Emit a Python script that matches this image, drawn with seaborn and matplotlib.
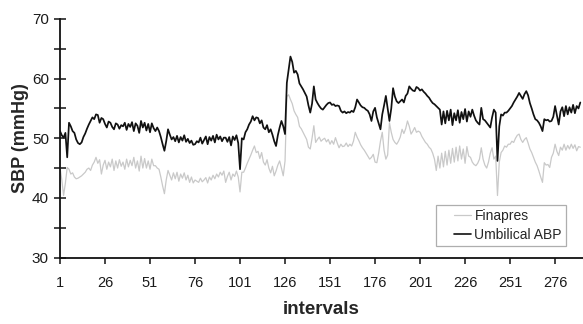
import numpy as np
import pandas as pd
import matplotlib
matplotlib.use("Agg")
import matplotlib.pyplot as plt
import seaborn as sns
from matplotlib.legend_handler import HandlerLine2D

# ---------------- data ----------------
umbilical_abp = [
    51.2, 50.5, 50.1, 50.9, 46.8, 52.6, 52.0, 51.2, 50.9, 49.8,
    49.2, 49.0, 49.3, 50.2, 50.8, 51.6, 52.3, 52.9, 53.5, 53.2,
    54.0, 53.9, 52.6, 53.4, 53.2, 52.4, 51.8, 52.8, 52.6, 51.9,
    51.5, 52.5, 52.3, 51.6, 52.2, 52.0, 52.6, 51.4, 52.4, 51.9,
    52.7, 51.2, 52.5, 52.1, 50.9, 52.9, 51.8, 52.6, 51.3, 52.4,
    51.0, 52.5, 51.7, 51.2, 51.8, 51.2, 50.2, 49.0, 47.9, 49.5,
    51.5, 50.6, 49.8, 50.2, 49.5, 50.4, 49.3, 50.2, 49.6, 50.5,
    49.4, 49.9, 49.2, 49.6, 48.9, 49.0, 49.5, 49.3, 50.1, 49.1,
    49.7, 50.3, 49.0, 50.2, 49.6, 50.4, 49.3, 50.6, 49.8, 50.3,
    49.5, 50.1, 50.1, 49.4, 50.2, 48.8, 50.3, 49.7, 50.5, 49.2,
    44.8, 50.0, 49.8, 51.0, 51.5, 52.3, 52.8, 53.7, 53.0, 53.5,
    53.4, 52.5, 53.0, 51.8, 51.5, 52.2, 51.0, 51.5, 50.6, 49.5,
    48.7, 50.5, 51.8, 52.9, 52.0, 50.7, 59.3, 61.5, 63.7, 62.8,
    61.0, 61.3, 60.7, 59.2, 58.7, 58.2, 57.6, 57.0, 55.5, 54.3,
    55.8, 58.7, 56.5, 55.9, 55.4, 55.0, 54.8, 55.2, 55.6, 55.9,
    56.0, 55.6, 55.7, 55.4, 55.5, 55.4, 54.6, 54.3, 54.5, 54.2,
    54.4, 54.3, 54.6, 54.4, 55.2, 56.5, 56.0, 55.5, 55.2, 55.1,
    54.8, 54.6, 54.0, 52.9, 54.5, 55.1, 53.5, 52.5, 51.5, 54.0,
    55.5, 57.1, 55.0, 52.9, 55.0, 58.4, 57.0, 56.2, 55.9, 56.2,
    56.5, 56.0, 57.1, 57.5, 58.7, 58.3, 58.0, 57.9, 58.6, 58.4,
    58.0, 58.2, 57.8, 57.5, 57.1, 56.8, 56.3, 55.9, 55.7, 55.4,
    55.1, 54.8, 52.3, 54.5, 52.5, 54.6, 53.0, 54.8, 52.2, 54.2,
    53.0, 54.7, 52.6, 54.4, 53.2, 54.9, 52.8, 54.5, 53.6, 54.8,
    53.8, 53.0, 52.6, 52.3, 55.1, 53.2, 53.0, 52.6, 52.2, 51.8,
    53.5, 54.8, 54.3, 46.2, 52.0, 54.0, 53.8, 54.3, 54.3, 54.6,
    55.0, 55.4, 56.0, 56.5, 57.0, 57.6, 57.1, 56.6, 57.4, 57.9,
    57.2, 55.9, 55.0, 54.0, 53.2, 53.0, 52.6, 52.0, 51.2, 53.2,
    53.0, 53.1, 52.8, 52.9, 53.6, 55.4, 53.8, 52.3, 54.5, 55.2,
    53.7, 55.4, 54.0, 55.2, 54.3, 55.6, 54.2, 55.4, 55.0, 56.0,
]

finapres = [
    45.1, 43.0, 40.4, 42.5, 45.1, 44.8, 44.0, 44.2, 43.5, 43.2,
    43.3, 43.5, 43.7, 44.0, 44.3, 44.8, 45.0, 44.6, 45.5, 46.0,
    46.8, 45.8, 46.4, 44.0, 45.5, 46.3, 44.8, 46.0, 45.2, 46.5,
    44.6, 46.2, 45.0, 46.4, 45.3, 46.0, 44.8, 46.5, 45.2, 46.3,
    45.4, 46.8, 45.0, 46.2, 44.5, 47.0, 45.0, 46.6, 45.0, 46.2,
    44.8, 46.5, 45.4, 45.4, 45.0, 44.8, 43.5, 42.0, 40.7, 43.0,
    44.6, 43.8, 43.0, 44.2, 43.2, 44.3, 42.8, 44.0, 43.3, 44.2,
    43.0, 43.8, 42.6, 43.5, 42.5, 43.0, 42.8, 42.6, 43.3, 42.7,
    43.0, 43.4, 42.5, 43.5, 43.0, 43.8, 43.2, 44.0, 43.5, 44.3,
    43.8, 44.5, 42.6, 43.6, 44.3, 43.0, 44.0, 43.6, 44.5, 43.5,
    41.0, 44.3, 44.3, 45.0, 45.8, 46.5, 47.2, 48.0, 48.7, 47.6,
    47.8, 46.6, 47.6, 46.0, 45.5, 46.4, 45.0, 44.2, 45.3, 43.7,
    44.5, 45.5, 46.2, 45.0, 43.7, 46.2, 57.0, 57.3, 56.5, 55.8,
    54.6, 54.0, 53.5, 52.0, 51.6, 51.0, 50.4, 49.8, 48.5, 48.2,
    50.0, 52.1, 49.3, 49.8, 50.2, 49.5, 49.8, 50.0, 49.4, 49.8,
    49.0, 49.6, 49.0, 50.1, 49.2, 48.4, 49.0, 48.6, 48.7, 49.2,
    48.6, 49.0, 48.7, 49.5, 51.0, 50.2, 49.6, 48.9, 48.4, 48.0,
    47.5, 47.0, 46.5, 46.8, 47.3, 46.0, 45.9, 47.5, 49.5, 51.0,
    48.0, 46.5, 47.2, 52.6, 51.0, 49.8, 49.3, 49.0, 49.5, 50.2,
    51.5, 50.8, 51.6, 52.9, 52.0, 50.7, 51.2, 51.8, 51.0, 51.2,
    51.0, 50.3, 49.8, 49.3, 49.0, 48.5, 48.2, 47.5, 46.5, 44.6,
    47.0, 45.0, 47.5, 45.2, 47.8, 45.5, 48.0, 45.8, 48.3, 46.0,
    48.5, 46.2, 48.7, 46.5, 48.2, 45.8, 48.6, 47.0, 46.8, 46.0,
    45.6, 45.4, 45.8, 46.5, 48.4, 46.5, 45.5, 45.0, 46.0, 47.5,
    48.4, 46.5, 47.0, 40.4, 46.0, 47.6, 48.0, 48.7, 48.5, 49.0,
    49.0, 49.5, 49.3, 50.0, 50.5, 50.7, 49.8, 49.3, 49.8, 50.1,
    49.2, 48.2, 47.6, 46.8, 46.0, 45.4, 44.5, 43.5, 42.6, 45.9,
    45.5, 45.6, 45.1, 46.8, 47.5, 49.0, 47.8, 47.1, 48.5, 48.0,
    49.0, 48.0, 48.8, 48.2, 49.0, 48.3, 48.9, 47.9, 48.6, 48.5,
]

series_names = ["Finapres", "Umbilical ABP"]
x_ticks = [1, 26, 51, 76, 101, 126, 151, 176, 201, 226, 251, 276]
y_ticks = [30, 40, 50, 60, 70]

intervals = np.arange(1, len(umbilical_abp) + 1)
df = pd.concat([
    pd.DataFrame({"interval": intervals, "SBP": finapres, "series": series_names[0]}),
    pd.DataFrame({"interval": intervals, "SBP": umbilical_abp, "series": series_names[1]}),
], ignore_index=True)

# ---------------- style ----------------
sns.set_style("white")
plt.rcParams["font.family"] = ["Liberation Sans", "DejaVu Sans"]

fig = plt.figure(figsize=(5.83, 3.24), dpi=100)
ax = fig.add_axes([60 / 583, 66.5 / 324, 523 / 583, 238.5 / 324])

palette = {"Finapres": "#c9c9c9", "Umbilical ABP": "#111111"}
sns.lineplot(data=df, x="interval", y="SBP", hue="series", palette=palette,
             hue_order=series_names, ax=ax, legend=False, estimator=None)
for line, lw in zip(ax.get_lines(), [0.9, 1.25]):
    line.set_linewidth(lw)

ax.set_xlim(1, 291.5)
ax.set_ylim(30, 70)
ax.set_xticks(x_ticks)
ax.set_xticklabels([str(t) for t in x_ticks])
ax.set_yticks(y_ticks)
ax.set_yticks([35, 45, 55, 65], minor=True)

for s in ["top", "right"]:
    ax.spines[s].set_visible(False)
for s in ["left", "bottom"]:
    ax.spines[s].set_color("#111111")
    ax.spines[s].set_linewidth(1.3)

ax.tick_params(axis="x", which="major", direction="out", length=4, width=1.1,
               color="#111111", labelsize=10.5, pad=9, labelcolor="#1a1a1a", bottom=True)
ax.tick_params(axis="y", which="major", direction="inout", length=8, width=1.1,
               color="#111111", labelsize=11, pad=4, labelcolor="#1a1a1a", left=True)
ax.tick_params(axis="y", which="minor", direction="inout", length=8, width=1.1,
               color="#111111", left=True)

ax.set_xlabel("intervals", fontsize=13.5, fontweight="bold", labelpad=8)
ax.set_ylabel("SBP (mmHg)", fontsize=13, fontweight="bold", labelpad=2)
ax.grid(False)


class ShortHandle(HandlerLine2D):
    def get_xdata(self, legend, xdescent, ydescent, width, height, fontsize):
        x0 = -xdescent + width * 0.45
        x1 = -xdescent + width
        return np.array([x0, x1]), np.array([(x0 + x1) / 2])


handles = [plt.Line2D([], [], color=palette[n], lw=1.2 if n == "Umbilical ABP" else 0.9)
           for n in series_names]
leg = ax.legend(handles, series_names, loc="lower right",
                bbox_to_anchor=(0.981, 0.019), fontsize=10, frameon=True,
                fancybox=False, handlelength=2.2, handletextpad=0.25,
                borderpad=0.3, labelspacing=0.35,
                handler_map={h: ShortHandle() for h in handles})
leg.get_frame().set_edgecolor("#9a9a9a")
leg.get_frame().set_linewidth(0.9)

fig.savefig("out.png", dpi=100)
